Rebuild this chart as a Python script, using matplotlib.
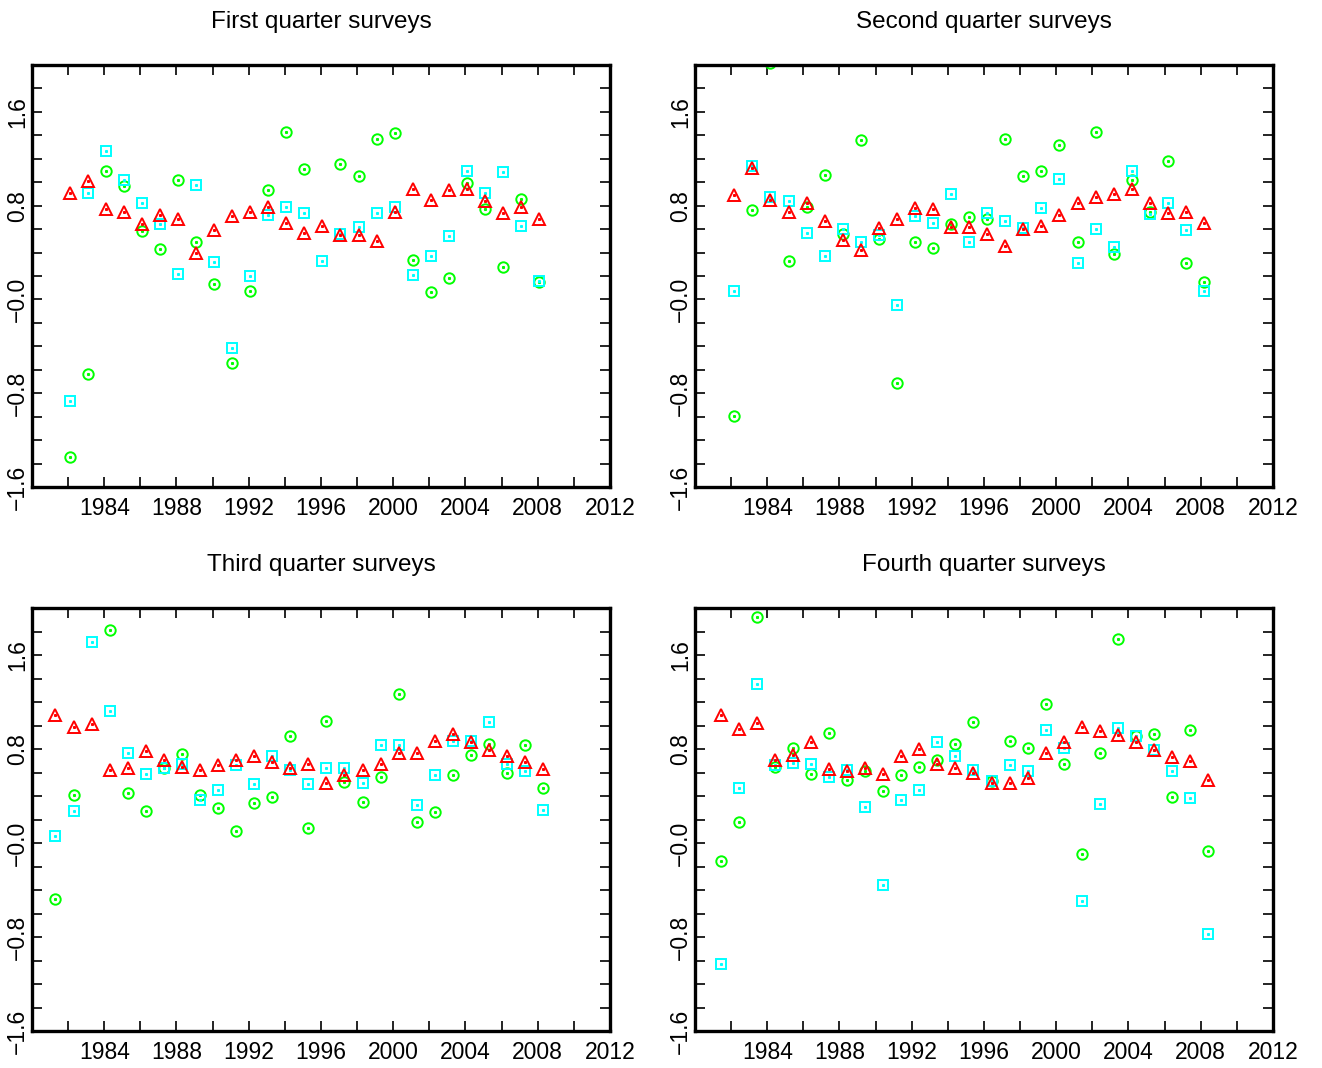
import numpy as np
import matplotlib
matplotlib.use('Agg')
import matplotlib.pyplot as plt
from matplotlib.ticker import MultipleLocator, FixedLocator, FixedFormatter

plt.rcParams['font.family'] = ['Liberation Sans', 'DejaVu Sans']

nan = np.nan

# survey years (Q1/Q2 start in 1982, Q3/Q4 in 1981) and time-of-year offsets
years_q12 = np.arange(1982, 2009)
years_q34 = np.arange(1981, 2009)
offsets = [0.08, 0.18, 0.30, 0.42]

titles = ['First quarter surveys', 'Second quarter surveys',
          'Third quarter surveys', 'Fourth quarter surveys']

q1_red = [0.91, 1.01, 0.77, 0.75, 0.64, 0.72, 0.69, 0.40, 0.59, 0.71, 0.75, 0.79, 0.65, 0.57,
          0.63, 0.55, 0.55, 0.50, 0.75, 0.94, 0.85, 0.93, 0.94, 0.84, 0.74, 0.79, 0.69]
q1_cyan = [-0.87, 0.91, 1.27, 1.02, 0.82, 0.64, 0.22, 0.98, 0.32, -0.41, 0.20, 0.72, 0.79, 0.74,
           0.33, 0.56, 0.62, 0.74, 0.79, 0.21, 0.37, 0.54, 1.10, 0.91, 1.09, 0.63, 0.16]
q1_green = [-1.34, -0.64, 1.10, 0.97, 0.58, 0.43, 1.02, 0.49, 0.13, -0.54, 0.07, 0.93, 1.43, 1.11,
            nan, 1.16, 1.05, 1.37, 1.42, 0.34, 0.06, 0.18, 0.99, 0.77, 0.28, 0.86, 0.15]

q2_red = [0.89, 1.12, 0.85, 0.75, 0.82, 0.67, 0.51, 0.42, 0.61, 0.69, 0.78, 0.77, 0.62, 0.62,
          0.56, 0.46, 0.60, 0.63, 0.72, 0.82, 0.87, 0.90, 0.94, 0.82, 0.74, 0.75, 0.65]
q2_cyan = [0.07, 1.14, 0.87, 0.84, 0.57, 0.37, 0.60, 0.49, 0.55, -0.05, 0.71, 0.65, 0.90, 0.49,
           0.74, 0.67, 0.61, 0.78, 1.03, 0.31, 0.60, 0.45, 1.10, 0.73, 0.82, 0.59, 0.07]
q2_green = [-0.99, 0.76, 2.02, 0.33, 0.79, 1.06, 0.56, 1.36, 0.52, -0.71, 0.49, 0.44, 0.64, 0.70,
            0.69, 1.37, 1.05, 1.10, 1.32, 0.49, 1.43, 0.39, 1.02, 0.75, 1.18, 0.31, 0.15]

q3_red = [1.09, 0.99, 1.01, 0.62, 0.64, 0.78, 0.71, 0.65, 0.62, 0.66, 0.71, 0.74, 0.69, 0.64,
          0.67, 0.51, 0.58, 0.62, 0.67, 0.77, 0.77, 0.87, 0.93, 0.86, 0.79, 0.74, 0.69, 0.63]
q3_cyan = [0.06, 0.27, 1.71, 1.12, 0.77, 0.59, 0.64, 0.67, 0.37, 0.45, 0.66, 0.50, 0.74, 0.62,
           0.50, 0.64, 0.64, 0.51, 0.83, 0.83, 0.32, 0.58, 0.87, 0.87, 1.03, 0.67, 0.61, 0.28]
q3_green = [-0.48, 0.41, nan, 1.81, 0.43, 0.27, 0.64, 0.76, 0.41, 0.30, 0.10, 0.34, 0.39, 0.91,
            0.13, 1.04, 0.52, 0.35, 0.56, 1.27, 0.18, 0.26, 0.58, 0.75, 0.84, 0.60, 0.83, 0.47]

q4_red = [1.09, 0.97, 1.02, 0.71, 0.75, 0.86, 0.63, 0.61, 0.64, 0.59, 0.74, 0.80, 0.67, 0.64,
          0.60, 0.51, 0.51, 0.55, 0.77, 0.86, 0.99, 0.95, 0.92, 0.86, 0.79, 0.73, 0.70, 0.54]
q4_cyan = [-1.03, 0.47, 1.35, 0.66, 0.68, 0.67, 0.56, 0.62, 0.31, -0.36, 0.37, 0.45, 0.86, 0.74,
           0.62, 0.53, 0.66, 0.61, 0.96, 0.81, -0.49, 0.33, 0.98, 0.91, 0.79, 0.61, 0.38, -0.77]
q4_green = [-0.15, 0.18, 1.92, 0.65, 0.81, 0.59, 0.94, 0.54, 0.61, 0.44, 0.58, 0.65, 0.71, 0.84,
            1.03, 0.53, 0.87, 0.81, 1.18, 0.67, -0.09, 0.77, 1.74, 0.91, 0.93, 0.39, 0.96, -0.07]

panels = [
    (years_q12, q1_red, q1_cyan, q1_green),
    (years_q12, q2_red, q2_cyan, q2_green),
    (years_q34, q3_red, q3_cyan, q3_green),
    (years_q34, q4_red, q4_cyan, q4_green),
]

xtick_labels = ['', '1984', '1988', '1992', '1996', '2000', '2004', '2008', '2012']
ytick_vals = [-1.6, -0.8, 0.0, 0.8, 1.6]
ytick_labels = ['\u22121.6', '\u22120.8', '\u22120.0', '0.8', '1.6']

fig = plt.figure(figsize=(13.22, 10.68), dpi=100)
# axes boxes in figure fraction [left, bottom, width, height]
boxes = [
    [0.0242, 0.5440, 0.4372, 0.3951],
    [0.5257, 0.5440, 0.4372, 0.3951],
    [0.0242, 0.0346, 0.4372, 0.3961],
    [0.5257, 0.0346, 0.4372, 0.3961],
]

for i, (years, red, cyan, green) in enumerate(panels):
    ax = fig.add_axes(boxes[i])
    x = years + offsets[i]
    style = dict(linestyle='none', markerfacecolor='none', markersize=7.5, markeredgewidth=1.4)
    ax.plot(x, green, marker='o', markeredgecolor='#00ff00', **style)
    ax.plot(x, green, marker='s', linestyle='none', color='#00ff00', markersize=1.2)
    ax.plot(x, cyan, marker='s', markeredgecolor='#00ffff', **dict(style, markersize=7))
    ax.plot(x, cyan, marker='s', linestyle='none', color='#00ffff', markersize=1.2)
    ax.plot(x, red, marker='^', markeredgecolor='#ff0000', **dict(style, markersize=8.5))
    ax.plot(x, red, marker='s', linestyle='none', color='#ff0000', markersize=1.2)

    ax.set_xlim(1980, 2012)
    ax.set_ylim(-1.6, 2.0)
    ax.xaxis.set_major_locator(FixedLocator(list(range(1980, 2013, 4))))
    ax.xaxis.set_major_formatter(FixedFormatter(xtick_labels))
    ax.xaxis.set_minor_locator(MultipleLocator(2))
    ax.yaxis.set_major_locator(FixedLocator(ytick_vals))
    ax.yaxis.set_major_formatter(FixedFormatter(ytick_labels))
    ax.yaxis.set_minor_locator(MultipleLocator(0.2))
    ax.tick_params(which='both', direction='in', top=True, right=True,
                   length=7, width=1.2, color='black')
    ax.tick_params(axis='x', which='major', labelsize=16.5, pad=7)
    ax.tick_params(axis='y', which='major', labelsize=16.5, pad=2)
    for lab in ax.get_yticklabels():
        lab.set_rotation(90)
        lab.set_va('center')
    for sp in ax.spines.values():
        sp.set_linewidth(2.4)
    ax.set_title(titles[i], fontsize=17.5, pad=27)

plt.savefig('out.png', dpi=100)
